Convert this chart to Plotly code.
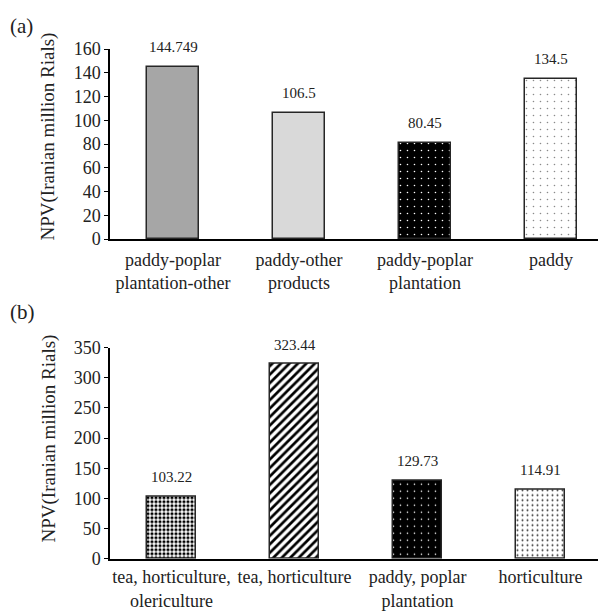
import plotly.graph_objects as go

W, H = 598, 613

# ---- data ----
cats_a = ["paddy-poplar<br>plantation-other", "paddy-other<br>products",
          "paddy-poplar<br>plantation", "paddy"]
vals_a = [144.749, 106.5, 80.45, 134.5]
labels_a = ["144.749", "106.5", "80.45", "134.5"]

cats_b = ["tea, horticulture,<br>olericulture", "tea, horticulture",
          "paddy, poplar<br>plantation", "horticulture"]
vals_b = [103.22, 323.44, 129.73, 114.91]
labels_b = ["103.22", "323.44", "129.73", "114.91"]

yticks_a = [0, 20, 40, 60, 80, 100, 120, 140, 160]
yticks_b = [0, 50, 100, 150, 200, 250, 300, 350]

FONT = "Liberation Serif"
EDGE = "#262626"

# styles per bar
pat_a = [
    dict(shape="", bgcolor="#a6a6a6"),
    dict(shape="", bgcolor="#d9d9d9"),
    dict(shape=".", bgcolor="#000000", fgcolor="#ffffff", size=7, solidity=0.04, fillmode="replace"),
    dict(shape=".", bgcolor="#ffffff", fgcolor="#8a8a8a", size=7, solidity=0.04, fillmode="replace"),
]
col_a = ["#a6a6a6", "#d9d9d9", "#000000", "#ffffff"]

pat_b = [
    dict(shape=".", bgcolor="#ffffff", fgcolor="#000000", size=4, solidity=0.5, fillmode="replace"),
    dict(shape="/", bgcolor="#ffffff", fgcolor="#000000", size=6, solidity=0.45, fillmode="replace"),
    dict(shape=".", bgcolor="#000000", fgcolor="#ffffff", size=7, solidity=0.04, fillmode="replace"),
    dict(shape=".", bgcolor="#ffffff", fgcolor="#333333", size=5, solidity=0.12, fillmode="replace"),
]
col_b = ["#ffffff", "#ffffff", "#000000", "#ffffff"]

fig = go.Figure()

for i in range(4):
    fig.add_trace(go.Bar(
        x=[cats_a[i]], y=[vals_a[i]], width=0.405,
        marker=dict(color=col_a[i], pattern=pat_a[i], line=dict(color=EDGE, width=1.5)),
        xaxis="x", yaxis="y", showlegend=False, hoverinfo="skip"))
for i in range(4):
    fig.add_trace(go.Bar(
        x=[cats_b[i]], y=[vals_b[i]], width=0.405,
        marker=dict(color=col_b[i], pattern=pat_b[i], line=dict(color=EDGE, width=1.5)),
        xaxis="x2", yaxis="y2", showlegend=False, hoverinfo="skip"))

ann = []
for c, v, t in zip(cats_a, vals_a, labels_a):
    ann.append(dict(x=c, y=v, text=t, xref="x", yref="y", showarrow=False,
                    yanchor="middle", yshift=20, font=dict(family=FONT, size=15, color="#222")))
for c, v, t in zip(cats_b, vals_b, labels_b):
    ann.append(dict(x=c, y=v, text=t, xref="x2", yref="y2", showarrow=False,
                    yanchor="middle", yshift=19, font=dict(family=FONT, size=15, color="#222")))

ann.append(dict(x=48 / W, y=1 - 136.5 / H, xref="paper", yref="paper", text="NPV(Iranian million Rials)",
                textangle=-90, showarrow=False, xanchor="center", yanchor="middle",
                font=dict(family=FONT, size=19, color="#222")))
ann.append(dict(x=48 / W, y=1 - 438.5 / H, xref="paper", yref="paper", text="NPV(Iranian million Rials)",
                textangle=-90, showarrow=False, xanchor="center", yanchor="middle",
                font=dict(family=FONT, size=19, color="#222")))
ann.append(dict(x=21 / W, y=1 - 25.5 / H, xref="paper", yref="paper", text="(a)", showarrow=False,
                xanchor="center", yanchor="middle", font=dict(family=FONT, size=21, color="#222")))
ann.append(dict(x=22 / W, y=1 - 312 / H, xref="paper", yref="paper", text="(b)", showarrow=False,
                xanchor="center", yanchor="middle", font=dict(family=FONT, size=21, color="#222")))

xdom = [110 / W, 1.0]
axis_common = dict(showgrid=False, zeroline=False, showline=True, linecolor="#000", automargin=False,
                   tickfont=dict(family=FONT, size=18, color="#222"))

fig.update_layout(
    width=W, height=H, margin=dict(l=0, r=0, t=0, b=0, pad=0, autoexpand=False),
    paper_bgcolor="white", plot_bgcolor="white", bargap=0,
    xaxis=dict(domain=xdom, anchor="y", range=[-0.5, 3.373], ticks="", linewidth=2,
               type="category", ticklabelstandoff=3, **axis_common),
    yaxis=dict(domain=[1 - 239 / H, 1 - 49 / H], anchor="x", range=[0, 160], tickvals=yticks_a,
               ticks="outside", ticklen=4, tickcolor="#000", linewidth=1.5, **axis_common),
    xaxis2=dict(domain=xdom, anchor="y2", range=[-0.5, 3.467], ticks="", linewidth=2,
                type="category", ticklabelstandoff=1, **axis_common),
    yaxis2=dict(domain=[1 - 558.7 / H, 1 - 347.7 / H], anchor="x2", range=[0, 350], tickvals=yticks_b,
                ticks="outside", ticklen=4, tickcolor="#000", linewidth=1.5, **axis_common),
    annotations=ann,
)

fig.write_html("out.html")
